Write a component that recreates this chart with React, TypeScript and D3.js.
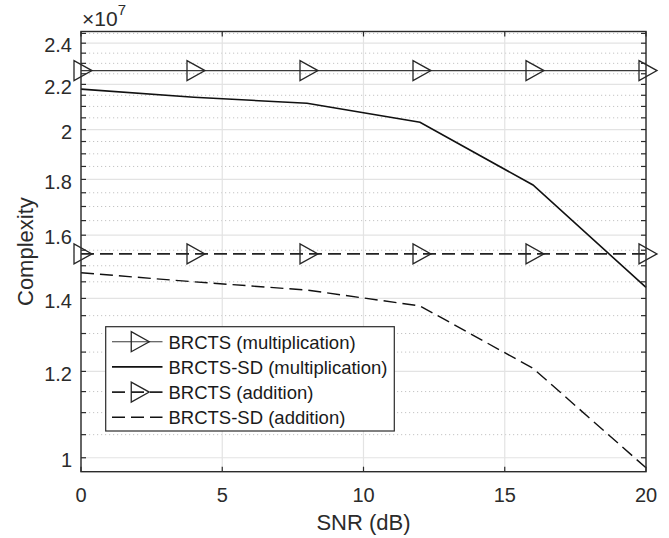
import React from 'react';
import * as d3 from 'd3';

// SNR points (dB)
const snr = [0, 4, 8, 12, 16, 20];
// complexity values in units of 1e7
const brctsMul = [2.265, 2.265, 2.265, 2.265, 2.265, 2.265];
const brctsSdMul = [2.178, 2.141, 2.114, 2.031, 1.779, 1.433];
const brctsAdd = [1.538, 1.538, 1.538, 1.538, 1.538, 1.538];
const brctsSdAdd = [1.478, 1.45, 1.425, 1.378, 1.208, 0.979];

const xTicks = [0, 5, 10, 15, 20];
const yTicks = [1, 1.2, 1.4, 1.6, 1.8, 2, 2.2, 2.4];
const legendLabels = [
  'BRCTS (multiplication)',
  'BRCTS-SD (multiplication)',
  'BRCTS (addition)',
  'BRCTS-SD (addition)',
];

const W = 669;
const H = 538;
const margin = {top: 31.5, right: 23, bottom: 66.3, left: 81};
const FONT = '"Liberation Sans", Arial, Helvetica, sans-serif';
const AX = '#2b2b2b';
const DASH = '13,6';

const tri = (x: number, y: number) =>
  `M${x - 7},${y - 10}L${x - 7},${y + 10}L${x + 11},${y}Z`;

const App = () => {
  const x = d3.scaleLinear()
    .domain([0, 20])
    .range([margin.left, W - margin.right]);
  const y = d3.scaleLog()
    .domain([0.971, 2.46])
    .range([H - margin.bottom, margin.top]);

  const [x0, x1] = x.range();
  const [y0, y1] = y.range();

  // minor grid every 0.05e7
  const minor = d3.range(0.95, 2.5, 0.05)
    .map(v => Math.round(v * 100) / 100)
    .filter(v => v >= 0.971 && v <= 2.46 && !yTicks.some(t => Math.abs(t - v) < 1e-6));

  const line = d3.line<number>()
    .x((d, i) => x(snr[i]))
    .y(d => y(d));

  const series = [
    {vals: brctsMul, dash: null, width: 1.1, color: '#3a3a3a', marker: true},
    {vals: brctsSdMul, dash: null, width: 1.6, color: '#111', marker: false},
    {vals: brctsAdd, dash: DASH, width: 1.6, color: '#222', marker: true},
    {vals: brctsSdAdd, dash: DASH, width: 1.4, color: '#111', marker: false},
  ];

  const lg = {x: 105.7, y: 326.7, w: 288.6, h: 104.3, row0: 341.7, rowH: 25.2, s0: 112, s1: 162.5, tx: 168.5};

  return (
    <svg width={W} height={H} style={{position: 'absolute', left: 0, top: 0, background: '#fff'}}
      fontFamily={FONT}>
      <rect x={0} y={0} width={W} height={H} fill="#fff" />
      {/* minor grid */}
      {minor.map(v => (
        <line key={'m' + v} x1={x0} x2={x1} y1={y(v)} y2={y(v)}
          stroke="#c4c4c4" strokeWidth={1} strokeDasharray="1.2,2.8" />
      ))}
      {/* major grid */}
      {yTicks.map(v => (
        <line key={'gy' + v} x1={x0} x2={x1} y1={y(v)} y2={y(v)} stroke="#e3e3e3" strokeWidth={1.2} />
      ))}
      {xTicks.map(v => (
        <line key={'gx' + v} x1={x(v)} x2={x(v)} y1={y0} y2={y1} stroke="#e3e3e3" strokeWidth={1.2} />
      ))}

      {/* series */}
      {series.map((s, i) => (
        <g key={'s' + i}>
          <path d={line(s.vals) || ''} fill="none" stroke={s.color} strokeWidth={s.width}
            strokeDasharray={s.dash || undefined} />
          {s.marker && s.vals.map((v, j) => (
            <path key={j} d={tri(x(snr[j]), y(v))} fill="none" stroke="#262626" strokeWidth={1.3} />
          ))}
        </g>
      ))}

      {/* axes box */}
      <rect x={x0} y={y1} width={x1 - x0} height={y0 - y1} fill="none" stroke={AX} strokeWidth={1.4} />
      {xTicks.map(v => (
        <g key={'tx' + v} stroke={AX} strokeWidth={1.2}>
          <line x1={x(v)} x2={x(v)} y1={y0} y2={y0 - 5} />
          <line x1={x(v)} x2={x(v)} y1={y1} y2={y1 + 5} />
        </g>
      ))}
      {[...yTicks, ...minor].map(v => (
        <g key={'ty' + v} stroke={AX} strokeWidth={1.2}>
          <line x1={x0} x2={x0 + 5} y1={y(v)} y2={y(v)} />
          <line x1={x1} x2={x1 - 5} y1={y(v)} y2={y(v)} />
        </g>
      ))}

      {/* tick labels */}
      {xTicks.map(v => (
        <text key={'lx' + v} x={x(v)} y={y0 + 30} textAnchor="middle" fontSize={20} fill={AX}>{v}</text>
      ))}
      {yTicks.map(v => (
        <text key={'ly' + v} x={x0 - 9} y={y(v) + 9.3} textAnchor="end" fontSize={20} fill={AX}>{v}</text>
      ))}
      <text x={x0 + 1} y={25.7} fontSize={21} fill={AX}>
        ×10<tspan fontSize={15} dy={-11}>7</tspan>
      </text>

      {/* axis labels */}
      <text x={(x0 + x1) / 2} y={530} textAnchor="middle" fontSize={22} fill={AX}>SNR (dB)</text>
      <text transform={`translate(32.5,${(y0 + y1) / 2}) rotate(-90)`} textAnchor="middle" fontSize={22}
        fill={AX}>Complexity</text>

      {/* legend */}
      <rect x={lg.x} y={lg.y} width={lg.w} height={lg.h} fill="#fff" stroke={AX} strokeWidth={1.2} />
      {series.map((s, i) => {
        const ry = lg.row0 + i * lg.rowH;
        const mx = (lg.s0 + lg.s1) / 2 + 1;
        return (
          <g key={'lg' + i}>
            <line x1={lg.s0} x2={lg.s1} y1={ry} y2={ry} stroke={s.color} strokeWidth={s.width}
              strokeDasharray={s.dash || undefined} />
            {s.marker && <path d={tri(mx, ry)} fill="#fff" fillOpacity={0} stroke="#262626" strokeWidth={1.3} />}
            <text x={lg.tx} y={ry + 6.8} fontSize={18.5} fill="#1a1a1a">{legendLabels[i]}</text>
          </g>
        );
      })}
    </svg>
  );
};

export default App;
